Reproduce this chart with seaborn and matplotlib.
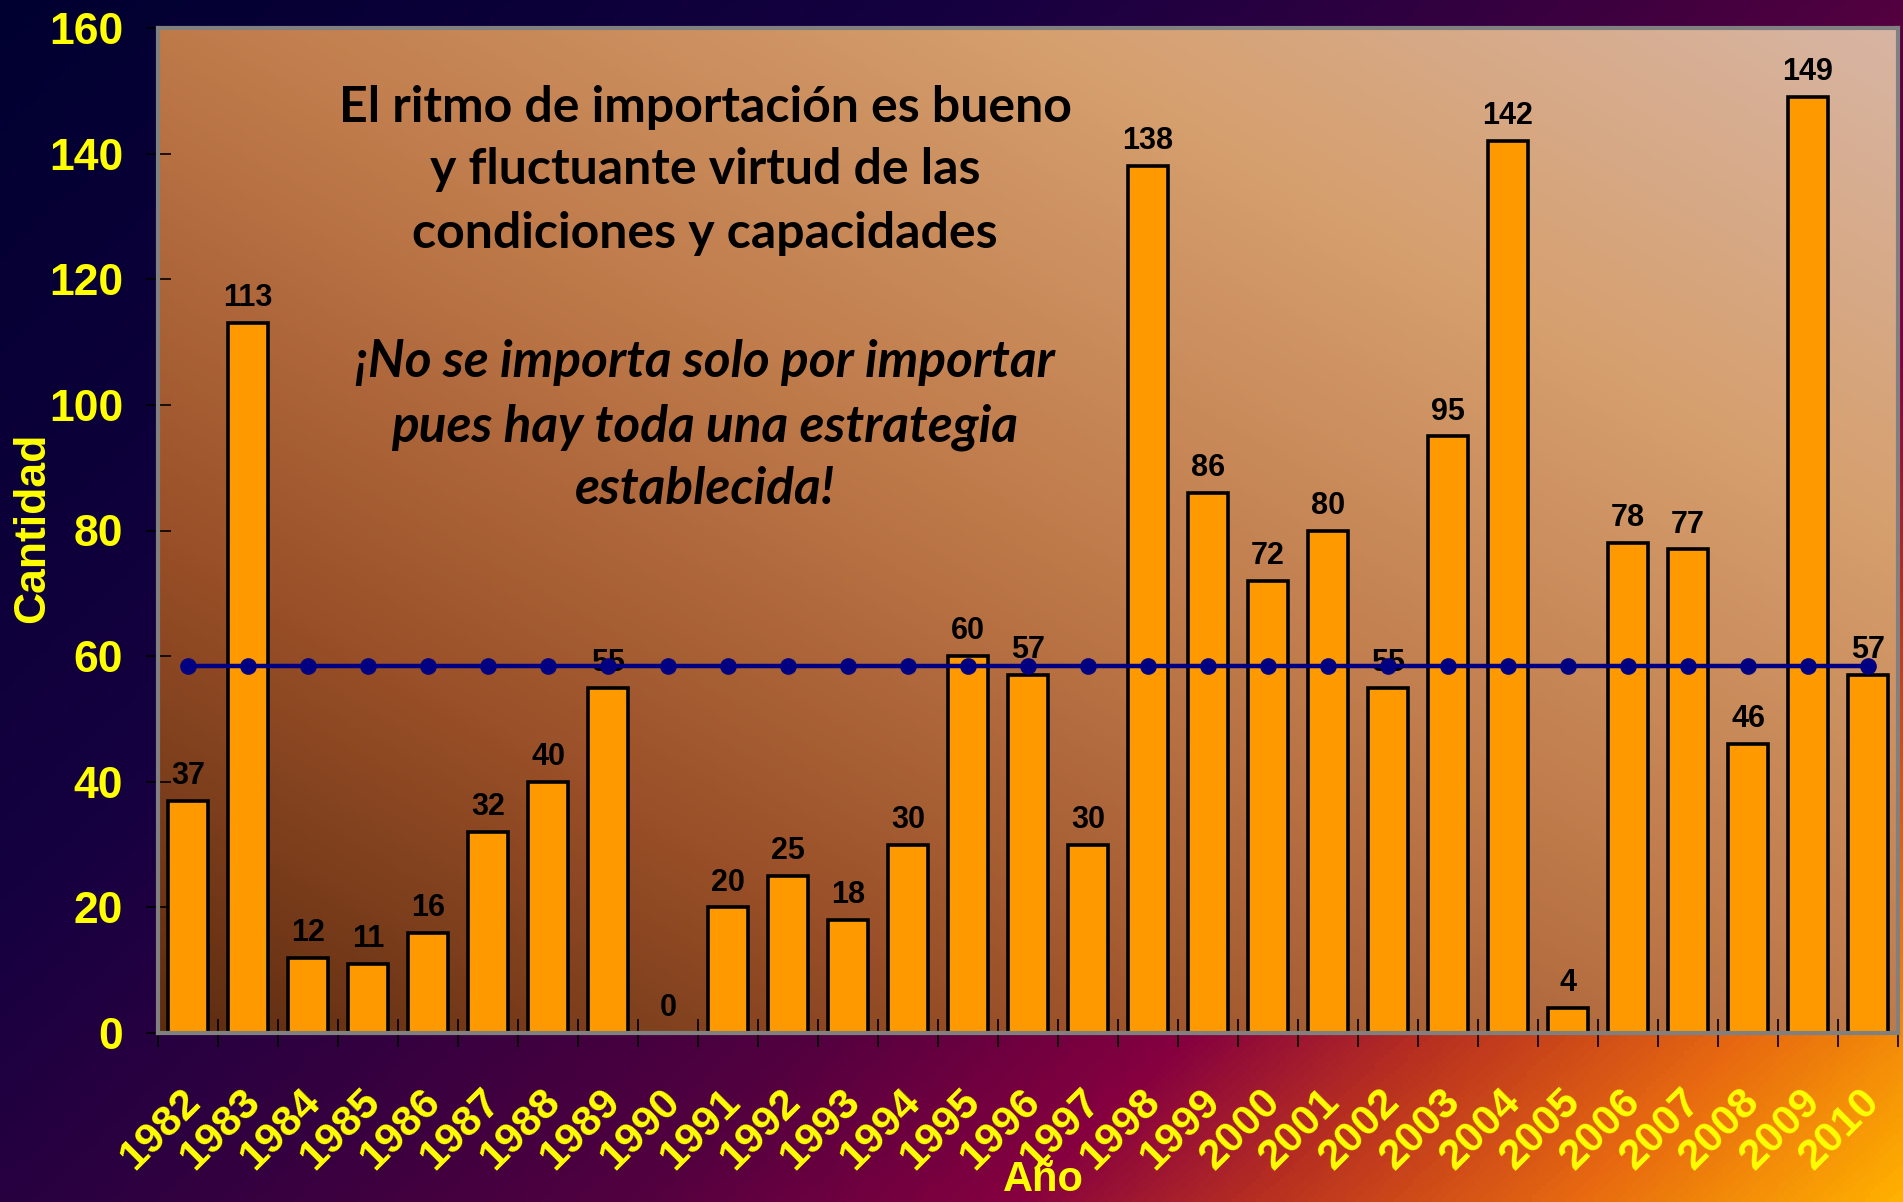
import numpy as np
import pandas as pd
import matplotlib
matplotlib.use("Agg")
import matplotlib.pyplot as plt
import matplotlib.transforms as mtransforms
import seaborn as sns
from matplotlib.colors import LinearSegmentedColormap

# datos
anios = ['1982', '1983', '1984', '1985', '1986', '1987', '1988', '1989', '1990', '1991',
         '1992', '1993', '1994', '1995', '1996', '1997', '1998', '1999', '2000', '2001',
         '2002', '2003', '2004', '2005', '2006', '2007', '2008', '2009', '2010']
cantidades = [37, 113, 12, 11, 16, 32, 40, 55, 0, 20,
              25, 18, 30, 60, 57, 30, 138, 86, 72, 80,
              55, 95, 142, 4, 78, 77, 46, 149, 57]
promedio = 58.4
ticks_y = [0, 20, 40, 60, 80, 100, 120, 140, 160]

titulo = ["El ritmo de importación es bueno",
          "y fluctuante virtud de las",
          "condiciones y capacidades"]
mensaje = ["¡No se importa solo por importar",
           "pues hay toda una estrategia",
           "establecida!"]

sns.set_style("white")
plt.rcParams['font.family'] = ['Liberation Sans', 'DejaVu Sans']

W, H = 1903, 1202
fig = plt.figure(figsize=(W / 100, H / 100), dpi=100)

# fondo de la figura (degradado azul -> morado -> naranja)
fondo = LinearSegmentedColormap.from_list('fondo', [
    (0.0, '#000030'), (0.3, '#150040'), (0.45, '#300040'), (0.6, '#52003f'),
    (0.72, '#850040'), (0.8, '#b83020'), (0.9, '#e86a10'), (1.0, '#ffb000')])
u, w = np.meshgrid(np.linspace(0, 1, 400), np.linspace(0, 1, 300))
ax_bg = fig.add_axes([0, 0, 1, 1], zorder=-2)
ax_bg.imshow(0.6 * u + 0.4 * w, cmap=fondo, aspect='auto', vmin=0, vmax=1)
ax_bg.axis('off')

# posicion del area de trazado
izq, der, arr, aba = 158, 1898, 28, 1033
pos = [izq / W, 1 - aba / H, (der - izq) / W, (aba - arr) / H]

area = LinearSegmentedColormap.from_list('area', [
    (0.0, '#5e2c10'), (0.25, '#9a5028'), (0.5, '#bf7a4a'), (0.75, '#d69f6e'), (1.0, '#d8b5a3')])
ax_area = fig.add_axes(pos, zorder=-1)
ax_area.imshow(0.5 * u + 0.5 * (1 - w), cmap=area, aspect='auto', vmin=0, vmax=1)
ax_area.axis('off')

ax = fig.add_axes(pos, zorder=0)
ax.set_facecolor('none')

df = pd.DataFrame({'anio': anios, 'cantidad': cantidades})
sns.barplot(data=df, x='anio', y='cantidad', color='#ff9900', saturation=1,
            edgecolor='black', linewidth=2.6, width=0.67, ax=ax, zorder=2)
ax.bar_label(ax.containers[0], padding=7, fontsize=22, fontweight='bold', color='black')

df['promedio'] = [promedio] * len(anios)
sns.lineplot(data=df, x='anio', y='promedio', color='#000080', linewidth=3.2,
             marker='o', markersize=12, markeredgewidth=0, sort=False, ax=ax, zorder=4)

ax.set_xlim(-0.5, len(anios) - 0.5)
ax.set_ylim(0, 160)
ax.set_yticks(ticks_y)
ax.set_xticks(np.arange(-0.5, len(anios), 1), minor=True)

ax.tick_params(axis='y', direction='inout', length=18, width=1.2, color='black',
               labelsize=32, labelcolor='#ffff00', pad=16, left=True)
for t in ax.get_yticklabels():
    t.set_fontweight('bold')
ax.tick_params(axis='x', which='major', length=0, labelsize=31, labelcolor='#ffff00', pad=35)
ax.tick_params(axis='x', which='minor', direction='inout', length=20, width=1.2,
               color='black', bottom=True)
desplaza = mtransforms.ScaledTranslation(20 / 100, 0, fig.dpi_scale_trans)
for t in ax.get_xticklabels():
    t.set_fontweight('bold')
    t.set_rotation(45)
    t.set_ha('right')
    t.set_transform(t.get_transform() + desplaza)

for s in ax.spines.values():
    s.set_color('#808080')
    s.set_linewidth(3)
    s.set_visible(True)

ax.set_xlabel('')
ax.set_ylabel('')
fig.text(33 / W, 1 - 528 / H, 'Cantidad', fontsize=32, fontweight='bold', color='#ffff00',
         rotation=90, ha='center', va='center')
fig.text(1043 / W, 1 - 1160 / H, 'Año', fontsize=30, fontweight='bold',
         color='#ffff00', ha='center', va='top')

# textos del area de trazado
cx = (705 - izq) / (der - izq)
for linea, yy in zip(titulo, [107, 170, 233]):
    ax.text(cx, (aba - yy) / (aba - arr), linea, transform=ax.transAxes,
            ha='center', va='center', fontsize=36, fontweight='bold',
            family=['Lato', 'DejaVu Sans'], color='black', zorder=5)
for linea, yy in zip(mensaje, [362, 427, 490]):
    ax.text(cx, (aba - yy) / (aba - arr), linea, transform=ax.transAxes,
            ha='center', va='center', fontsize=37, fontweight='bold', fontstyle='italic',
            family=['Lato', 'DejaVu Sans'], color='black', zorder=5)

fig.savefig('out.png', dpi=100)
